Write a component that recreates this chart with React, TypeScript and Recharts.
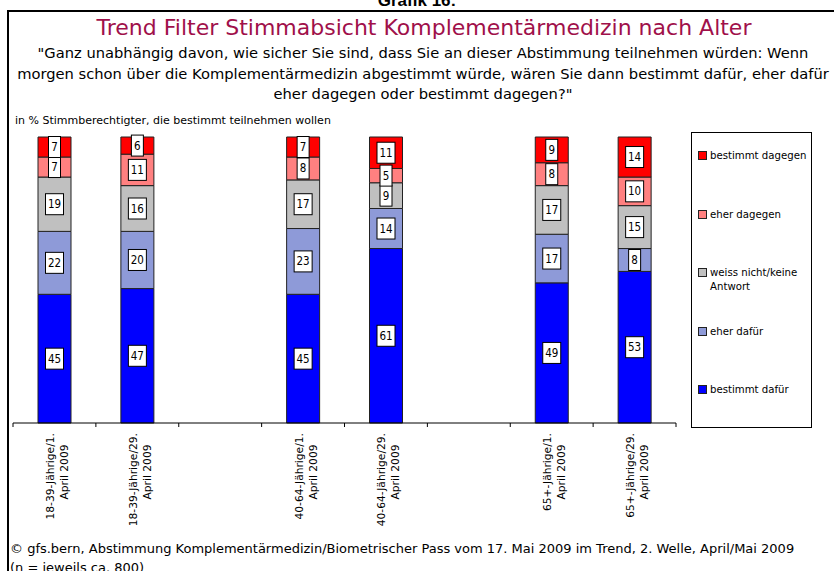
import React from 'react';
import { BarChart, Bar, XAxis, YAxis, LabelList, Legend } from 'recharts';

const categories = ['c1', 'c2', 'gap1', 'c3', 'c4', 'gap2', 'c5', 'c6'];
const labelLine1 = ['18-39-Jährige/1.', '18-39-Jährige/29.', '', '40-64-Jährige/1.', '40-64-Jährige/29.', '', '65+-Jährige/1.', '65+-Jährige/29.'];
const labelLine2 = ['April 2009', 'April 2009', '', 'April 2009', 'April 2009', '', 'April 2009', 'April 2009'];

const bestimmtDafuer = [45, 47, null, 45, 61, null, 49, 53];
const eherDafuer = [22, 20, null, 23, 14, null, 17, 8];
const weissNicht = [19, 16, null, 17, 9, null, 17, 15];
const eherDagegen = [7, 11, null, 8, 5, null, 8, 10];
const bestimmtDagegen = [7, 6, null, 7, 11, null, 9, 14];

const seriesNames = ['bestimmt dafür', 'eher dafür', 'weiss nicht/keine Antwort', 'eher dagegen', 'bestimmt dagegen'];
const seriesKeys = ['bd', 'ed', 'wn', 'eg', 'bg'];
const seriesColors = ['#0000FF', '#8E9AD8', '#C0C0C0', '#FF8080', '#FF0000'];

const data = categories.map((c, i) => ({
  name: c,
  bd: bestimmtDafuer[i],
  ed: eherDafuer[i],
  wn: weissNicht[i],
  eg: eherDagegen[i],
  bg: bestimmtDagegen[i],
}));

const FONT = '"DejaVu Sans", Verdana, sans-serif';
const FONT_C = '"DejaVu Sans Condensed", "DejaVu Sans", sans-serif';
const W = 834;
const H = 571;
const MARGIN = { top: 137, right: 158, bottom: 48, left: 13 };
const XAXIS_H = 100;
const BAND = (W - MARGIN.left - MARGIN.right) / categories.length;

const ValueLabel = (props: any) => {
  const { x, y, width, height, value } = props;
  if (value === null || value === undefined) return null;
  const s = String(value);
  const bw = s.length === 1 ? 12 : 18;
  const bh = 21;
  const cx = Number(x) + Number(width) / 2;
  const cy = Number(y) + Number(height) / 2;
  return (
    <g>
      <rect x={cx - bw / 2} y={cy - bh / 2} width={bw} height={bh} fill="#fff" stroke="#000" strokeWidth={1} />
      <text x={cx} y={cy} textAnchor="middle" dominantBaseline="central" fontSize={11.5} fontFamily={FONT_C} fill="#000">{s}</text>
    </g>
  );
};

const CategoryTick = (props: any) => {
  const { x, y, index } = props;
  const l1 = labelLine1[index] || '';
  const l2 = labelLine2[index] || '';
  const left = x - BAND / 2;
  const right = x + BAND / 2;
  return (
    <g>
      <line x1={left} y1={y} x2={left} y2={y + 4} stroke="#000" strokeWidth={1} />
      {index === categories.length - 1 && <line x1={right} y1={y} x2={right} y2={y + 4} stroke="#000" strokeWidth={1} />}
      {l1 && (
        <text transform={`translate(${x},${y + 10}) rotate(-90)`} textAnchor="end" fontSize={10.7} fontFamily={FONT} fill="#000">
          <tspan x={0} y={-4} dominantBaseline="central">{l1}</tspan>
        </text>
      )}
      {l2 && (
        <text transform={`translate(${x},${y + 49}) rotate(-90)`} textAnchor="middle" fontSize={10.7} fontFamily={FONT} fill="#000">
          <tspan x={0} y={10} dominantBaseline="central">{l2}</tspan>
        </text>
      )}
    </g>
  );
};

const LegendBox = (props: any) => {
  const payload = (props.payload || [])
    .slice()
    .sort((a: any, b: any) => seriesNames.indexOf(b.value) - seriesNames.indexOf(a.value));
  return (
    <div style={{ width: 119, height: 294, border: '1px solid #000', background: '#fff', position: 'relative', fontFamily: FONT_C, fontSize: 11.3, color: '#000' }}>
      {payload.map((p: any, i: number) => {
        const label: string = p.value;
        const parts = label === 'weiss nicht/keine Antwort' ? ['weiss nicht/keine', 'Antwort'] : [label];
        return (
          <div key={label} style={{ position: 'absolute', left: 6, top: 16 + i * 58.5, lineHeight: '14px' }}>
            <span style={{ position: 'absolute', left: 0, top: 2, width: 7, height: 7, background: p.color, border: '1px solid #222' }} />
            <div style={{ marginLeft: 12, whiteSpace: 'nowrap' }}>
              {parts.map((t) => (<div key={t}>{t}</div>))}
            </div>
          </div>
        );
      })}
    </div>
  );
};

export default function App() {
  return (
    <div style={{ position: 'absolute', left: 0, top: 0, width: W, height: H, overflow: 'hidden', background: '#fff', fontFamily: FONT }}>
      <div style={{ position: 'absolute', left: 0, width: W, top: -9, textAlign: 'center', fontWeight: 'bold', fontSize: 17, fontFamily: '"Liberation Sans", Arial, sans-serif', color: '#000' }}>Grafik 16:</div>
      <div style={{ position: 'absolute', left: 7, top: 10, width: 900, height: 700, border: '2px solid #000', boxSizing: 'border-box' }} />
      <div style={{ position: 'absolute', left: 0, width: 848, top: 15, textAlign: 'center', fontSize: 22, color: '#A0104A', whiteSpace: 'nowrap' }}>
        Trend Filter Stimmabsicht Komplementärmedizin nach Alter
      </div>
      <div style={{ position: 'absolute', left: 0, width: 846, top: 43, textAlign: 'center', fontSize: 14.7, lineHeight: '20.5px', color: '#000' }}>
        <div style={{ whiteSpace: 'nowrap' }}>"Ganz unabhängig davon, wie sicher Sie sind, dass Sie an dieser Abstimmung teilnehmen würden: Wenn</div>
        <div style={{ whiteSpace: 'nowrap' }}>morgen schon über die Komplementärmedizin abgestimmt würde, wären Sie dann bestimmt dafür, eher dafür</div>
        <div style={{ whiteSpace: 'nowrap' }}>eher dagegen oder bestimmt dagegen?"</div>
      </div>
      <div style={{ position: 'absolute', left: 15, top: 114, fontSize: 11, color: '#000', whiteSpace: 'nowrap' }}>
        in % Stimmberechtigter, die bestimmt teilnehmen wollen
      </div>
      <div style={{ position: 'absolute', left: 0, top: 0 }}>
        <BarChart width={W} height={H} data={data} margin={MARGIN} barSize={33}>
          <YAxis hide domain={[0, 100]} width={0} />
          <XAxis
            dataKey="name"
            interval={0}
            height={XAXIS_H}
            tickLine={false}
            tickSize={0}
            tickMargin={0}
            axisLine={{ stroke: '#000', strokeWidth: 1 }}
            tick={<CategoryTick />}
          />
          {seriesKeys.map((k, i) => (
            <Bar key={k} dataKey={k} name={seriesNames[i]} stackId="s" fill={seriesColors[i]} stroke="#222" strokeWidth={1} isAnimationActive={false}>
              <LabelList dataKey={k} content={<ValueLabel />} />
            </Bar>
          ))}
          <Legend
            layout="vertical"
            align="center"
            verticalAlign="middle"
            content={<LegendBox />}
            wrapperStyle={{ left: 691, top: 132, width: 121, height: 296 }}
          />
        </BarChart>
      </div>
      <div style={{ position: 'absolute', left: 10, top: 539, fontSize: 13, lineHeight: '19px', color: '#000', whiteSpace: 'nowrap' }}>
        <div>© gfs.bern, Abstimmung Komplementärmedizin/Biometrischer Pass vom 17. Mai 2009 im Trend, 2. Welle, April/Mai 2009</div>
        <div>(n = jeweils ca. 800)</div>
      </div>
    </div>
  );
}
